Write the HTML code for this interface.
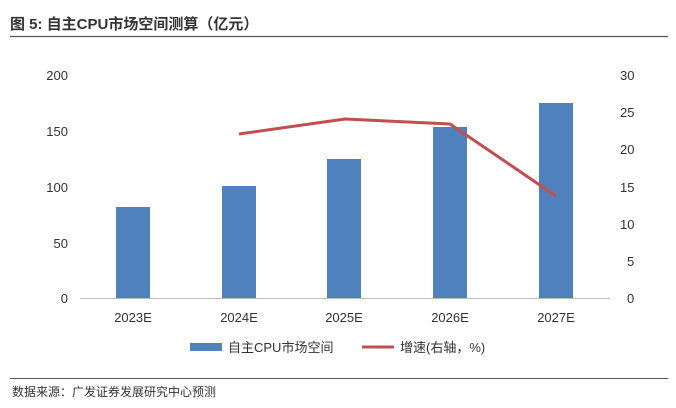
<!DOCTYPE html>
<html><head><meta charset="utf-8"><style>
body{margin:0;background:#fff;width:676px;height:403px;overflow:hidden}
</style></head><body>
<svg width="676" height="403" xmlns="http://www.w3.org/2000/svg" font-family="'Liberation Sans','Noto Sans CJK SC',sans-serif">
<text x="10" y="29" font-size="15" font-weight="bold" fill="#333">图 5: 自主CPU市场空间测算（亿元）</text>
<line x1="10" y1="36.5" x2="668" y2="36.5" stroke="#555" stroke-width="1.2"/>
<g font-size="13" fill="#333" text-anchor="end">
<text x="68" y="80">200</text><text x="68" y="136">150</text><text x="68" y="192">100</text><text x="68" y="248">50</text><text x="68" y="303">0</text>
</g>
<g font-size="13" fill="#333" text-anchor="start">
<text x="620" y="80">30</text><text x="620" y="117">25</text><text x="620" y="154">20</text><text x="620" y="192">15</text><text x="620" y="229">10</text><text x="627" y="266">5</text><text x="627" y="303">0</text>
</g>
<g fill="#4f81bd">
<rect x="116" y="207" width="34" height="91"/>
<rect x="222" y="186" width="34" height="112"/>
<rect x="327" y="159" width="34" height="139"/>
<rect x="433" y="127" width="34" height="171"/>
<rect x="539" y="103" width="34" height="195"/>
</g>
<line x1="80" y1="298.5" x2="610" y2="298.5" stroke="#bbb"/>
<polyline points="239,134 345,119 450,124 556,196" fill="none" stroke="#c0504d" stroke-width="3"/>
<g font-size="13" fill="#333" text-anchor="middle">
<text x="133" y="322">2023E</text><text x="239" y="322">2024E</text><text x="344" y="322">2025E</text><text x="450" y="322">2026E</text><text x="556" y="322">2027E</text>
</g>
<rect x="190" y="343" width="32" height="8" fill="#4f81bd"/>
<text x="228" y="352" font-size="13" fill="#333">自主CPU市场空间</text>
<line x1="362" y1="347" x2="394" y2="347" stroke="#c0504d" stroke-width="3"/>
<text x="400" y="352" font-size="13" fill="#333">增速(右轴，%)</text>
<line x1="10" y1="378.5" x2="668" y2="378.5" stroke="#555" stroke-width="1"/>
<text x="12" y="396" font-size="12" fill="#333">数据来源：广发证券发展研究中心预测</text>
</svg>
</body></html>
